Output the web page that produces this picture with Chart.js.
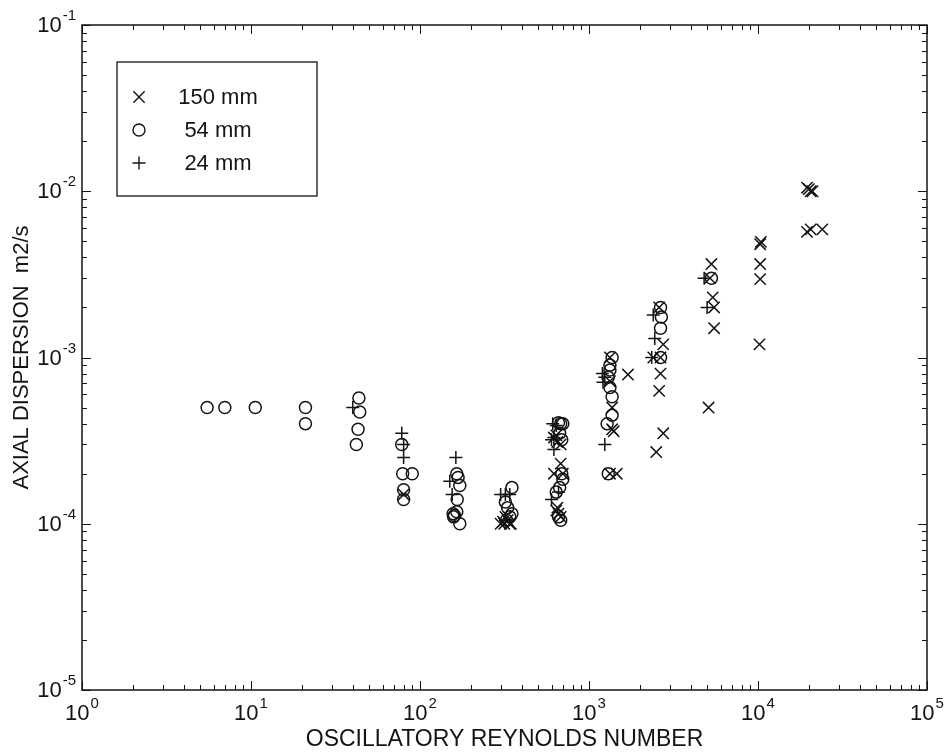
<!DOCTYPE html>
<html>
<head>
<meta charset="utf-8">
<script src="https://cdn.jsdelivr.net/npm/chart.js@4.4.0/dist/chart.umd.min.js"></script>
<style>
  html, body { margin: 0; padding: 0; background: #fff; }
  canvas { display: block; }
</style>
</head>
<body>
<canvas id="dispChart" width="947" height="754"></canvas>
<script>
// valores (Re oscilatorio vs dispersion axial)
const re150 = [80, 300, 315, 330, 340, 320, 310, 345,
  620, 650, 680, 640, 680, 620, 700, 640, 660, 680, 650,
  1330, 1330, 1700, 1370, 1370, 1400, 1330, 1460,
  2600, 2750, 2400, 2650, 2650, 2600, 2750, 2500,
  5300, 5200, 5400, 5500, 5500, 5100,
  10400, 10300, 10300, 10300, 10200,
  19500, 20500, 20000, 21000, 19500, 20500, 24000];
const disp150 = [1.5e-4, 1.0e-4, 1.0e-4, 1.05e-4, 1.0e-4, 1.1e-4, 1.03e-4, 1.0e-4,
  3.3e-4, 3.1e-4, 3.0e-4, 3.4e-4, 2.3e-4, 2.0e-4, 2.0e-4, 1.2e-4, 1.15e-4, 1.1e-4, 1.25e-4,
  1.0e-3, 7.2e-4, 7.9e-4, 5.0e-4, 3.7e-4, 3.6e-4, 2.0e-4, 2.0e-4,
  2.0e-3, 1.2e-3, 1.0e-3, 1.0e-3, 8.0e-4, 6.3e-4, 3.5e-4, 2.7e-4,
  3.65e-3, 3.0e-3, 2.3e-3, 2.0e-3, 1.5e-3, 5.0e-4,
  4.96e-3, 4.8e-3, 3.65e-3, 2.96e-3, 1.2e-3,
  1.05e-2, 1.0e-2, 1.03e-2, 1.0e-2, 5.7e-3, 5.9e-3, 5.9e-3];

const re54 = [5.5, 7.0, 10.6, 21, 21, 43.5, 44, 43, 42,
  78, 79, 90, 80, 80,
  165, 168, 172, 166, 157, 160, 165, 158, 172,
  350, 320, 330, 350, 325, 340,
  680, 660, 700, 670, 690, 690, 700, 640, 670, 680, 660,
  1370, 1330, 1330, 1300, 1330, 1370, 1370, 1280, 1300,
  2650, 2680, 2650, 2650, 5300];
const disp54 = [5e-4, 5e-4, 5e-4, 5e-4, 4e-4, 5.7e-4, 4.7e-4, 3.7e-4, 3.0e-4,
  3.0e-4, 2.0e-4, 2.0e-4, 1.6e-4, 1.4e-4,
  2.0e-4, 1.9e-4, 1.7e-4, 1.4e-4, 1.15e-4, 1.12e-4, 1.18e-4, 1.1e-4, 1.0e-4,
  1.65e-4, 1.35e-4, 1.25e-4, 1.15e-4, 1.05e-4, 1.1e-4,
  4.0e-4, 4.05e-4, 4.0e-4, 3.5e-4, 3.2e-4, 2.0e-4, 1.85e-4, 1.55e-4, 1.65e-4, 1.05e-4, 1.1e-4,
  1.0e-3, 9.0e-4, 8.4e-4, 7.6e-4, 6.6e-4, 5.8e-4, 4.5e-4, 4.0e-4, 2.0e-4,
  2.0e-3, 1.75e-3, 1.5e-3, 1.0e-3, 3.0e-3];

const re24 = [40, 78, 80, 80, 163, 150, 155,
  300, 320, 340, 320,
  610, 640, 600, 620, 620, 600, 660,
  1200, 1240, 1210, 1240,
  2400, 2450, 2350, 4800, 5000];
const disp24 = [5e-4, 3.5e-4, 3.0e-4, 2.5e-4, 2.5e-4, 1.8e-4, 1.5e-4,
  1.5e-4, 1.5e-4, 1.5e-4, 1.05e-4,
  4.0e-4, 3.9e-4, 3.2e-4, 3.3e-4, 2.8e-4, 1.4e-4, 1.55e-4,
  8.0e-4, 7.6e-4, 7.1e-4, 3.0e-4,
  1.8e-3, 1.3e-3, 1.0e-3, 3.0e-3, 2.0e-3];

const seriesLabels = ['150 mm', '54 mm', '24 mm'];
const seriesStyles = ['crossRot', 'circle', 'cross'];
const seriesRadius = [8, 6, 6.5];

// ticks mayores
const xTicks = [1, 10, 100, 1000, 10000, 100000];
const yTicks = [1e-5, 1e-4, 1e-3, 1e-2, 1e-1];

const toPoints = (xs, ys) => xs.map((x, i) => ({ x: x, y: ys[i] }));

const INK = '#141414';
const FONT = '"Liberation Sans", Arial, sans-serif';

// marcas, etiquetas 10^n y leyenda dibujadas encima
const framePlugin = {
  id: 'frame',
  afterDraw(chart) {
    const ctx = chart.ctx;
    const a = chart.chartArea;
    const sx = chart.scales.x;
    const sy = chart.scales.y;
    ctx.save();
    ctx.strokeStyle = INK;

    // ticks hacia adentro en los cuatro lados
    ctx.lineWidth = 1;
    ctx.beginPath();
    for (let i = 0; i < xTicks.length; i++) {
      const last = i === xTicks.length - 1;
      for (let m = 1; m < (last ? 2 : 10); m++) {
        const px = Math.round(sx.getPixelForValue(xTicks[i] * m)) + 0.5;
        const len = m === 1 ? 9 : 5;
        ctx.moveTo(px, a.bottom); ctx.lineTo(px, a.bottom - len);
        ctx.moveTo(px, a.top); ctx.lineTo(px, a.top + len);
      }
    }
    for (let i = 0; i < yTicks.length; i++) {
      const last = i === yTicks.length - 1;
      for (let m = 1; m < (last ? 2 : 10); m++) {
        const py = Math.round(sy.getPixelForValue(yTicks[i] * m)) + 0.5;
        const len = m === 1 ? 9 : 5;
        ctx.moveTo(a.left, py); ctx.lineTo(a.left + len, py);
        ctx.moveTo(a.right, py); ctx.lineTo(a.right - len, py);
      }
    }
    ctx.stroke();

    // marco
    ctx.lineWidth = 1.5;
    ctx.strokeRect(a.left, a.top, a.right - a.left, a.bottom - a.top);

    // etiquetas de potencias
    const baseFont = '22px ' + FONT;
    const expFont = '15px ' + FONT;
    ctx.fillStyle = INK;
    ctx.textBaseline = 'middle';
    ctx.textAlign = 'left';
    const pow = (v, x, y, mode) => {
      const e = String(Math.round(Math.log10(v)));
      ctx.font = baseFont;
      const wb = ctx.measureText('10').width;
      ctx.font = expFont;
      const we = ctx.measureText(e).width + 1;
      const start = mode === 'center' ? x - (wb + we) / 2 : x - (wb + we);
      ctx.font = baseFont;
      ctx.fillText('10', start, y);
      ctx.font = expFont;
      ctx.fillText(e, start + wb + 1, y - 10);
    };
    xTicks.forEach(v => pow(v, sx.getPixelForValue(v), 714, 'center'));
    yTicks.forEach(v => pow(v, 76, sy.getPixelForValue(v) + 1, 'right'));

    // leyenda
    const box = { x: 117, y: 62, w: 200, h: 134 };
    ctx.fillStyle = '#fff';
    ctx.fillRect(box.x, box.y, box.w, box.h);
    ctx.lineWidth = 1.3;
    ctx.strokeRect(box.x, box.y, box.w, box.h);
    chart.data.datasets.forEach((ds, i) => {
      const yy = 97 + i * 33;
      ctx.strokeStyle = INK;
      ctx.fillStyle = 'rgba(0,0,0,0)';
      ctx.lineWidth = 1.4;
      Chart.helpers.drawPoint(ctx, {
        pointStyle: ds.pointStyle, rotation: 0,
        radius: ds.pointRadius, borderWidth: 1.4
      }, 139, yy);
      ctx.fillStyle = INK;
      ctx.font = '22px ' + FONT;
      ctx.textAlign = 'center';
      ctx.fillText(ds.label, 218, yy + 1);
      ctx.textAlign = 'left';
    });
    ctx.restore();
  }
};

const ctx = document.querySelector('#dispChart').getContext('2d');
const datasets = [
  toPoints(re150, disp150),
  toPoints(re54, disp54),
  toPoints(re24, disp24)
].map((pts, i) => ({
  label: seriesLabels[i],
  data: pts,
  pointStyle: seriesStyles[i],
  pointRadius: seriesRadius[i],
  pointHoverRadius: seriesRadius[i],
  borderColor: INK,
  backgroundColor: 'rgba(0,0,0,0)',
  borderWidth: 1.5,
  showLine: false
}));

const myChart = new Chart(ctx, {
  type: 'scatter',
  data: { datasets: datasets },
  options: {
    responsive: false,
    animation: false,
    devicePixelRatio: 1,
    layout: { padding: { top: 25, right: 20, left: 0, bottom: 0 } },
    plugins: {
      legend: { display: false },
      tooltip: { enabled: false }
    },
    scales: {
      x: {
        type: 'logarithmic',
        min: 1,
        max: 100000,
        grid: { display: false },
        border: { display: false },
        ticks: { display: false },
        title: {
          display: true,
          text: 'OSCILLATORY REYNOLDS NUMBER',
          color: INK,
          font: { family: FONT, size: 23 },
          padding: { top: 0, bottom: 1 }
        },
        afterFit: s => { s.height = 64; }
      },
      y: {
        type: 'logarithmic',
        min: 1e-5,
        max: 1e-1,
        grid: { display: false },
        border: { display: false },
        ticks: { display: false },
        title: {
          display: true,
          text: 'AXIAL DISPERSION  m2/s',
          color: INK,
          font: { family: FONT, size: 22 },
          padding: { top: 9, bottom: 0 }
        },
        afterFit: s => { s.width = 82; }
      }
    }
  },
  plugins: [framePlugin]
});
</script>
</body>
</html>
